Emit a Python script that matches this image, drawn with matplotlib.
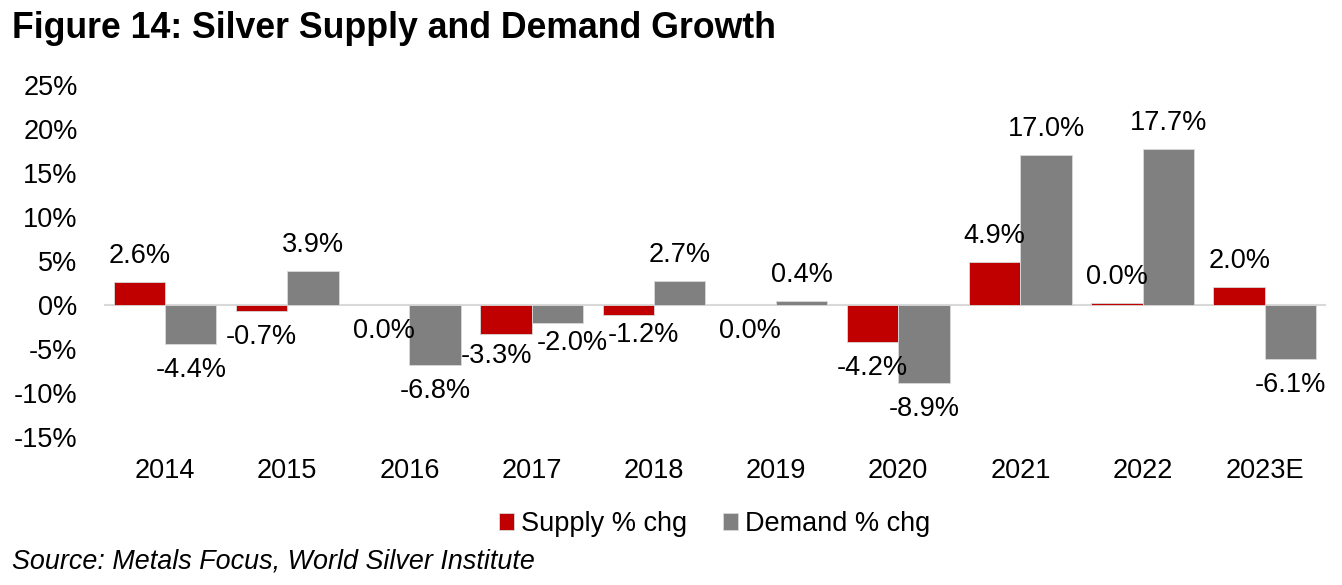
import matplotlib
matplotlib.use("Agg")
import matplotlib.pyplot as plt
import numpy as np

years = ["2014", "2015", "2016", "2017", "2018", "2019", "2020", "2021", "2022", "2023E"]
supply = [2.6, -0.7, -0.05, -3.3, -1.2, -0.05, -4.2, 4.9, 0.2, 2.0]
demand = [-4.4, 3.9, -6.8, -2.0, 2.7, 0.4, -8.9, 17.0, 17.7, -6.1]
supply_labels = ["2.6%", "-0.7%", "0.0%", "-3.3%", "-1.2%", "0.0%", "-4.2%", "4.9%", "0.0%", "2.0%"]
demand_labels = ["-4.4%", "3.9%", "-6.8%", "-2.0%", "2.7%", "0.4%", "-8.9%", "17.0%", "17.7%", "-6.1%"]
yticks = [-15, -10, -5, 0, 5, 10, 15, 20, 25]

RED = "#C00000"
GRAY = "#808080"
FONT = "Liberation Sans"
plt.rcParams["font.family"] = [FONT, "DejaVu Sans"]

fig = plt.figure(figsize=(13.42, 5.85), dpi=100)
ax = fig.add_axes([0.0775, 0.253, 0.9105, 0.602])

x = np.arange(len(years))
w = 0.42
b1 = ax.bar(x - w / 2, supply, w, color=RED, edgecolor="#d9d9d9", linewidth=0.6, label="Supply % chg", zorder=2)
b2 = ax.bar(x + w / 2, demand, w, color=GRAY, edgecolor="#d9d9d9", linewidth=0.6, label="Demand % chg", zorder=2)

ax.axhline(0, color="#d9d9d9", linewidth=1.5, zorder=1)

# small nudges (points) to keep crowded labels apart, as in the source
nudge = {("s", 3): (-7.2, 2.9), ("d", 3): (10.8, 4.3), ("s", 4): (10.8, 5.0)}

for key, bars, vals, labs in (("s", b1, supply, supply_labels), ("d", b2, demand, demand_labels)):
    for i, (rect, v, lab) in enumerate(zip(bars, vals, labs)):
        cx = rect.get_x() + rect.get_width() / 2
        dx, dy = nudge.get((key, i), (0, 0))
        off = 18.7 if v >= 0 else -18.7
        ax.annotate(lab, (cx, v), xytext=(dx, off + dy), textcoords="offset points",
                    ha="center", va="center", fontsize=19.5)

ax.set_xlim(-0.5, len(years) - 0.5)
ax.set_ylim(-15, 25)
ax.set_yticks(yticks)
ax.set_yticklabels([f"{t}%" for t in yticks], fontsize=19.5)
ax.set_xticks(x)
ax.set_xticklabels(years, fontsize=19.5)
ax.tick_params(axis="y", length=0, pad=19)
ax.tick_params(axis="x", length=0, pad=15)
for s in ax.spines.values():
    s.set_visible(False)

leg = fig.legend(handles=[b1, b2], loc="center", bbox_to_anchor=(0.5325, 0.104), ncol=2,
                 frameon=False, fontsize=19.5, handlelength=0.55, handleheight=0.55,
                 handletextpad=0.25, columnspacing=1.35)

fig.text(0.009, 0.951, "Figure 14: Silver Supply and Demand Growth", fontsize=25.7,
         fontweight="bold", ha="left", va="center")
fig.text(0.009, 0.041, "Source: Metals Focus, World Silver Institute", fontsize=19.4,
         fontstyle="italic", ha="left", va="center")

fig.savefig("out.png", dpi=100)
